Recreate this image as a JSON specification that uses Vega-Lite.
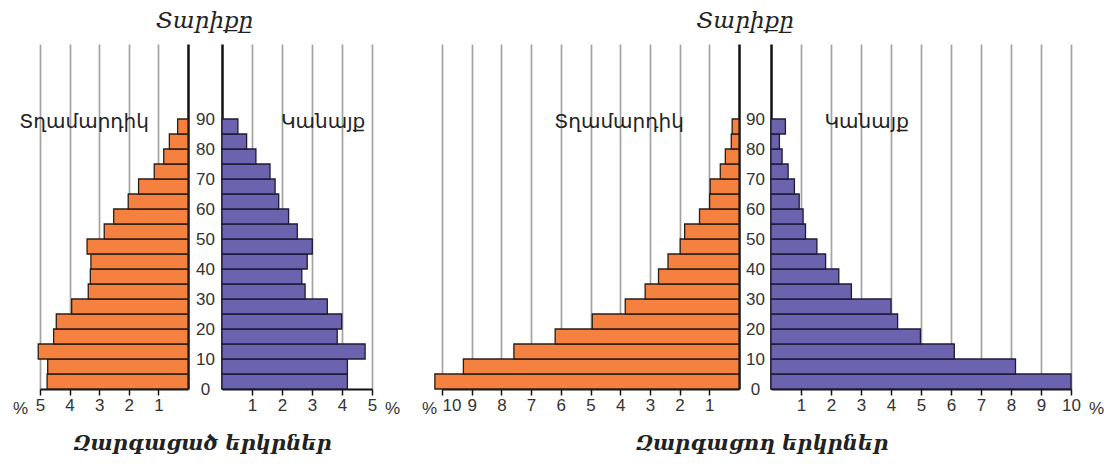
{
  "$schema": "https://vega.github.io/schema/vega-lite/v6.json",
  "padding": {"left": 12, "top": 9, "right": 0, "bottom": 0},
  "background": "white",
  "datasets": {
    "dev": [
      {"age": 0, "age_end": 5, "male": 4.76, "female": 4.18},
      {"age": 5, "age_end": 10, "male": 4.74, "female": 4.18},
      {"age": 10, "age_end": 15, "male": 5.06, "female": 4.77},
      {"age": 15, "age_end": 20, "male": 4.54, "female": 3.84},
      {"age": 20, "age_end": 25, "male": 4.45, "female": 3.99},
      {"age": 25, "age_end": 30, "male": 3.93, "female": 3.51},
      {"age": 30, "age_end": 35, "male": 3.37, "female": 2.77},
      {"age": 35, "age_end": 40, "male": 3.30, "female": 2.66},
      {"age": 40, "age_end": 45, "male": 3.28, "female": 2.84},
      {"age": 45, "age_end": 50, "male": 3.41, "female": 3.01},
      {"age": 50, "age_end": 55, "male": 2.83, "female": 2.51},
      {"age": 55, "age_end": 60, "male": 2.51, "female": 2.22},
      {"age": 60, "age_end": 65, "male": 2.02, "female": 1.89},
      {"age": 65, "age_end": 70, "male": 1.67, "female": 1.77},
      {"age": 70, "age_end": 75, "male": 1.14, "female": 1.60},
      {"age": 75, "age_end": 80, "male": 0.82, "female": 1.13},
      {"age": 80, "age_end": 85, "male": 0.63, "female": 0.82},
      {"age": 85, "age_end": 90, "male": 0.35, "female": 0.53}
    ],
    "devg": [
      {"age": 0, "age_end": 5, "male": 10.24, "female": 10.0},
      {"age": 5, "age_end": 10, "male": 9.28, "female": 8.15},
      {"age": 10, "age_end": 15, "male": 7.58, "female": 6.11},
      {"age": 15, "age_end": 20, "male": 6.19, "female": 4.98},
      {"age": 20, "age_end": 25, "male": 4.94, "female": 4.22},
      {"age": 25, "age_end": 30, "male": 3.83, "female": 4.0},
      {"age": 30, "age_end": 35, "male": 3.16, "female": 2.68},
      {"age": 35, "age_end": 40, "male": 2.71, "female": 2.26},
      {"age": 40, "age_end": 45, "male": 2.39, "female": 1.82},
      {"age": 45, "age_end": 50, "male": 1.98, "female": 1.53},
      {"age": 50, "age_end": 55, "male": 1.83, "female": 1.15},
      {"age": 55, "age_end": 60, "male": 1.33, "female": 1.07},
      {"age": 60, "age_end": 65, "male": 0.99, "female": 0.94},
      {"age": 65, "age_end": 70, "male": 0.97, "female": 0.78},
      {"age": 70, "age_end": 75, "male": 0.63, "female": 0.57},
      {"age": 75, "age_end": 80, "male": 0.46, "female": 0.37},
      {"age": 80, "age_end": 85, "male": 0.26, "female": 0.28},
      {"age": 85, "age_end": 90, "male": 0.23, "female": 0.48}
    ]
  },
  "config": {
    "view": {"stroke": null},
    "axis": {
      "labelFont": "Liberation Sans", "labelFontSize": 17, "labelColor": "#333", "labelOverlap": false, "tickCount": 30, "format": "d",
      "titleFont": "Liberation Sans", "titleFontSize": 17, "titleFontWeight": "normal", "titleColor": "#333",
      "domainColor": "#111", "tickColor": "#111", "gridColor": "#a3a3a3", "gridWidth": 1.7
    },
    "text": {"color": "#222"}
  },
  "spacing": 21,
  "hconcat": [
    {
      "bounds": "flush",
      "spacing": 34,
      "hconcat": [
        {
          "width": 148, "height": 345,
          "data": {"name": "dev"},
          "layer": [
            {
              "mark": {"type": "rect", "color": "#F4813F", "stroke": "#2b1d14", "strokeWidth": 1.3},
              "encoding": {
                "x": {"field": "male", "type": "quantitative", "scale": {"domain": [0, 5], "reverse": true, "nice": false},
                  "axis": {"values": [1, 2, 3, 4, 5], "tickCount": 30, "format": "d", "grid": true, "labelFlush": false, "domainWidth": 2, "tickSize": 6, "tickWidth": 1.5, "labelPadding": 2,
                    "title": "%", "titleAngle": 0, "titleX": -20, "titleY": 19, "titleAlign": "center", "titleBaseline": "middle"}},
                "x2": {"datum": 0},
                "y": {"field": "age", "type": "quantitative", "scale": {"domain": [0, 115], "nice": false},
                  "axis": {"orient": "right", "labels": false, "ticks": false, "grid": false, "title": null, "domainWidth": 2.5}},
                "y2": {"field": "age_end"}
              }
            },
            {
              "data": {"values": [{"t": "Տղամարդիկ"}]},
              "mark": {"type": "text", "font": "DejaVu Sans", "fontSize": 20, "align": "center", "baseline": "middle"},
              "encoding": {"x": {"datum": 3.51, "type": "quantitative"}, "y": {"datum": 89, "type": "quantitative"}, "text": {"field": "t"}}
            }
          ]
        },
        {
          "width": 150, "height": 345,
          "data": {"name": "dev"},
          "layer": [
            {
              "mark": {"type": "rect", "color": "#6C63AF", "stroke": "#1f1a3a", "strokeWidth": 1.3},
              "encoding": {
                "x": {"field": "female", "type": "quantitative", "scale": {"domain": [0, 5], "nice": false},
                  "axis": {"values": [1, 2, 3, 4, 5], "tickCount": 30, "format": "d", "grid": true, "labelFlush": false, "domainWidth": 2, "tickSize": 6, "tickWidth": 1.5, "labelPadding": 2,
                    "title": "%", "titleAngle": 0, "titleX": 170, "titleY": 19, "titleAlign": "center", "titleBaseline": "middle"}},
                "x2": {"datum": 0},
                "y": {"field": "age", "type": "quantitative", "scale": {"domain": [0, 115], "nice": false},
                  "axis": {"orient": "left", "values": [0, 10, 20, 30, 40, 50, 60, 70, 80, 90], "tickCount": 30, "format": "d", "ticks": false, "grid": false, "title": null,
                    "domainWidth": 2.5, "labelAlign": "center", "labelBaseline": "middle", "labelPadding": 17, "labelFlush": false}},
                "y2": {"field": "age_end"}
              }
            },
            {
              "data": {"values": [{"t": "Կանայք"}]},
              "mark": {"type": "text", "font": "DejaVu Sans", "fontSize": 20, "align": "center", "baseline": "middle"},
              "encoding": {"x": {"datum": 3.37, "type": "quantitative"}, "y": {"datum": 89, "type": "quantitative"}, "text": {"field": "t"}}
            },
            {
              "data": {"values": [{"t": "Տարիքը"}]},
              "mark": {"type": "text", "font": "DejaVu Serif", "fontSize": 23, "fontStyle": "italic", "align": "center", "baseline": "middle"},
              "encoding": {"x": {"datum": -0.58, "type": "quantitative"}, "y": {"datum": 122.7, "type": "quantitative"}, "text": {"field": "t"}}
            },
            {
              "data": {"values": [{"t": "Զարգացած երկրներ"}]},
              "mark": {"type": "text", "font": "DejaVu Serif", "fontSize": 21, "fontStyle": "italic", "fontWeight": "bold", "align": "center", "baseline": "middle"},
              "encoding": {"x": {"datum": -0.65, "type": "quantitative"}, "y": {"datum": -18.3, "type": "quantitative"}, "text": {"field": "t"}}
            }
          ]
        }
      ]
    },
    {
      "bounds": "flush",
      "spacing": 32,
      "hconcat": [
        {
          "width": 297, "height": 345,
          "data": {"name": "devg"},
          "layer": [
            {
              "mark": {"type": "rect", "color": "#F4813F", "stroke": "#2b1d14", "strokeWidth": 1.3},
              "encoding": {
                "x": {"field": "male", "type": "quantitative", "scale": {"domain": [0, 10], "reverse": true, "nice": false},
                  "axis": {"values": [1, 2, 3, 4, 5, 6, 7, 8, 9, 10], "tickCount": 30, "format": "d", "grid": true, "labelFlush": false, "domainWidth": 2, "tickSize": 6, "tickWidth": 1.5, "labelPadding": 2,
                    "labelAlign": {"expr": "datum.value == 10 ? 'left' : 'center'"},
                    "title": "%", "titleAngle": 0, "titleX": -13, "titleY": 19, "titleAlign": "center", "titleBaseline": "middle"}},
                "x2": {"datum": 0},
                "y": {"field": "age", "type": "quantitative", "scale": {"domain": [0, 115], "nice": false},
                  "axis": {"orient": "right", "labels": false, "ticks": false, "grid": false, "title": null, "domainWidth": 2.5}},
                "y2": {"field": "age_end"}
              }
            },
            {
              "data": {"values": [{"t": "Տղամարդիկ"}]},
              "mark": {"type": "text", "font": "DejaVu Sans", "fontSize": 20, "align": "center", "baseline": "middle"},
              "encoding": {"x": {"datum": 4.04, "type": "quantitative"}, "y": {"datum": 89, "type": "quantitative"}, "text": {"field": "t"}}
            }
          ]
        },
        {
          "width": 300, "height": 345,
          "data": {"name": "devg"},
          "layer": [
            {
              "mark": {"type": "rect", "color": "#6C63AF", "stroke": "#1f1a3a", "strokeWidth": 1.3},
              "encoding": {
                "x": {"field": "female", "type": "quantitative", "scale": {"domain": [0, 10], "nice": false},
                  "axis": {"values": [1, 2, 3, 4, 5, 6, 7, 8, 9, 10], "tickCount": 30, "format": "d", "grid": true, "labelFlush": false, "domainWidth": 2, "tickSize": 6, "tickWidth": 1.5, "labelPadding": 2,
                    "title": "%", "titleAngle": 0, "titleX": 325, "titleY": 19, "titleAlign": "center", "titleBaseline": "middle"}},
                "x2": {"datum": 0},
                "y": {"field": "age", "type": "quantitative", "scale": {"domain": [0, 115], "nice": false},
                  "axis": {"orient": "left", "values": [0, 10, 20, 30, 40, 50, 60, 70, 80, 90], "tickCount": 30, "format": "d", "ticks": false, "grid": false, "title": null,
                    "domainWidth": 2.5, "labelAlign": "center", "labelBaseline": "middle", "labelPadding": 16, "labelFlush": false}},
                "y2": {"field": "age_end"}
              }
            },
            {
              "data": {"values": [{"t": "Կանայք"}]},
              "mark": {"type": "text", "font": "DejaVu Sans", "fontSize": 20, "align": "center", "baseline": "middle"},
              "encoding": {"x": {"datum": 3.19, "type": "quantitative"}, "y": {"datum": 89, "type": "quantitative"}, "text": {"field": "t"}}
            },
            {
              "data": {"values": [{"t": "Տարիքը"}]},
              "mark": {"type": "text", "font": "DejaVu Serif", "fontSize": 23, "fontStyle": "italic", "align": "center", "baseline": "middle"},
              "encoding": {"x": {"datum": -0.86, "type": "quantitative"}, "y": {"datum": 122.7, "type": "quantitative"}, "text": {"field": "t"}}
            },
            {
              "data": {"values": [{"t": "Զարգացող երկրներ"}]},
              "mark": {"type": "text", "font": "DejaVu Serif", "fontSize": 21, "fontStyle": "italic", "fontWeight": "bold", "align": "center", "baseline": "middle"},
              "encoding": {"x": {"datum": -0.3, "type": "quantitative"}, "y": {"datum": -18.3, "type": "quantitative"}, "text": {"field": "t"}}
            }
          ]
        }
      ]
    }
  ]
}
